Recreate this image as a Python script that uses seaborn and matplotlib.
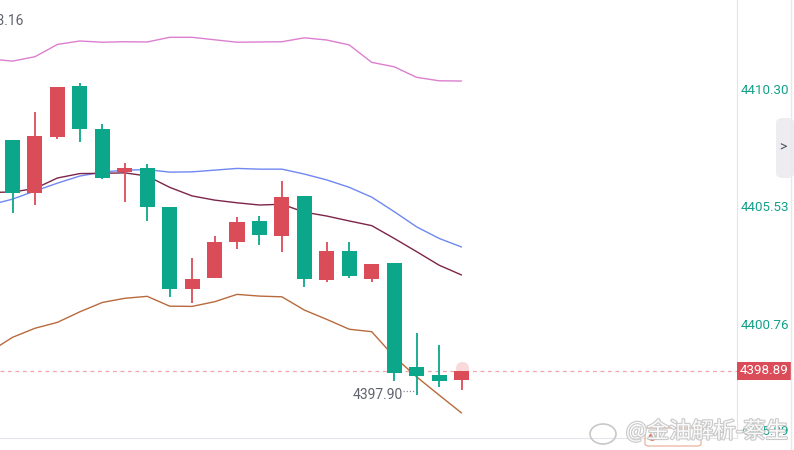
import numpy as np
import pandas as pd
import matplotlib.pyplot as plt
import seaborn as sns
import matplotlib.patheffects as pe
from matplotlib.patches import Rectangle, FancyBboxPatch, Ellipse

# --- candle data ---
opens  = [4408.30, 4406.15, 4408.43, 4410.50, 4408.74, 4407.00, 4407.16, 4405.58, 4402.24, 4402.69, 4404.15,
          4405.00, 4404.40, 4406.02, 4402.61, 4403.77, 4402.65, 4403.29, 4399.05, 4398.72, 4398.53]
closes = [4406.15, 4408.46, 4410.45, 4408.76, 4406.76, 4407.16, 4405.58, 4402.24, 4402.63, 4404.14, 4404.96,
          4404.44, 4405.97, 4402.65, 4403.77, 4402.77, 4403.25, 4398.82, 4398.70, 4398.49, 4398.89]
highs  = [4408.30, 4409.44, 4410.45, 4410.61, 4408.95, 4407.36, 4407.32, 4405.58, 4403.49, 4404.39, 4405.16,
          4405.20, 4406.63, 4406.02, 4404.14, 4404.14, 4403.25, 4403.29, 4400.43, 4399.95, 4398.89]
lows   = [4405.33, 4405.66, 4408.35, 4408.23, 4406.72, 4405.78, 4405.01, 4401.91, 4401.67, 4402.69, 4403.87,
          4404.03, 4403.75, 4402.32, 4402.52, 4402.69, 4402.52, 4398.49, 4397.90, 4398.25, 4398.12]

# --- indicator lines, one value per bar starting one bar before the first visible candle ---
upper_band = [4411.60, 4411.51, 4411.69, 4412.19, 4412.33, 4412.28, 4412.30, 4412.29, 4412.48, 4412.48, 4412.38,
              4412.28, 4412.29, 4412.30, 4412.46, 4412.37, 4412.17, 4411.46, 4411.28, 4410.85, 4410.71, 4410.70]
mid_band   = [4405.65, 4405.89, 4406.22, 4406.54, 4406.83, 4406.99, 4407.07, 4407.09, 4406.99, 4407.00, 4407.07,
              4407.14, 4407.11, 4407.11, 4406.91, 4406.67, 4406.37, 4405.97, 4405.38, 4404.76, 4404.29, 4403.94]
ma_line    = [4406.16, 4406.18, 4406.32, 4406.75, 4406.93, 4406.94, 4406.96, 4406.83, 4406.37, 4406.02, 4405.85,
              4405.74, 4405.65, 4405.68, 4405.36, 4405.20, 4405.00, 4404.81, 4404.29, 4403.75, 4403.20, 4402.80]
lower_band = [4399.68, 4400.26, 4400.63, 4400.87, 4401.30, 4401.68, 4401.85, 4401.93, 4401.53, 4401.52, 4401.71,
              4402.01, 4401.94, 4401.91, 4401.37, 4400.99, 4400.59, 4400.49, 4399.47, 4398.65, 4397.91, 4397.18]

axis_prices = [4410.30, 4405.53, 4400.76, 4395.99]
last_price = 4398.89
high_label = 4413.16   # marker for a high just off the left edge
time_ticks = [3, 11, 19]

RED = "#db4c59"
GREEN = "#0ca68b"
LABEL_GREEN = "#14a088"

sns.set_style("white")
plt.rcParams['font.family'] = ['Roboto', 'DejaVu Sans']

fig = plt.figure(figsize=(7.94, 4.5), dpi=100)
ax = fig.add_axes([0, 12 / 450, 737 / 794, 438 / 450])

# indicator lines via seaborn
n_line = len(upper_band)
line_x = np.arange(n_line) - 1
lines = pd.DataFrame({
    "idx": np.tile(line_x, 4),
    "value": upper_band + mid_band + ma_line + lower_band,
    "line": ["upper"] * n_line + ["mid"] * n_line + ["ma"] * n_line + ["lower"] * n_line,
})
palette = {"upper": "#dc7fcf", "mid": "#6f87f2", "ma": "#7c2449", "lower": "#b86a3c"}
sns.lineplot(data=lines, x="idx", y="value", hue="line", palette=palette, linewidth=1.0,
             legend=False, ax=ax, zorder=2)

# candles
o = np.array(opens)
c = np.array(closes)
x = np.arange(len(o))
cols = np.where(c >= o, RED, GREEN)
ax.vlines(x, lows, highs, colors=cols, lw=1.3, zorder=3)
ax.bar(x, np.maximum(np.abs(c - o), 0.12), bottom=np.minimum(o, c), width=0.67,
       color=cols, linewidth=0, zorder=4)

# glow on the live candle
ax.scatter([x[-1]], [closes[-1] + 0.12], s=90, color="#f4b5bb", alpha=0.5, zorder=3.5, linewidths=0)

# last price dashed line
ax.axhline(last_price, color="#f3a2a9", lw=0.9, ls=(0, (3, 3)), zorder=1)

# lowest low label
lo_i = int(np.argmin(lows))
ax.plot([lo_i - 0.6, lo_i - 0.05], [lows[lo_i] + 0.18] * 2, color="#8a8d96", lw=0.9,
        ls=(0, (1, 1.5)), zorder=5)
ax.text(lo_i - 0.6, lows[lo_i], f"{lows[lo_i]:.2f}", ha="right", va="center",
        fontsize=10, color="#60636d", zorder=5)

# high label cut off at left edge
ax.text(0.51, high_label, f"{high_label:.2f}", ha="right", va="center",
        fontsize=10, color="#60636d")

y_lo, y_hi = 4396.16, 4414.00
ax.set_xlim(-0.557, 32.27)
ax.set_ylim(y_lo, y_hi)

# axes decoration
for s in ["left", "top"]:
    ax.spines[s].set_visible(False)
ax.spines["right"].set_color("#e4e5ea")
ax.spines["bottom"].set_color("#e4e5ea")
ax.set_xticks(time_ticks)
ax.set_xticklabels([""] * len(time_ticks))
ax.tick_params(axis="x", length=12, color="#e4e5ea", direction="out")
ax.set_yticks([])
ax.set_xlabel("")
ax.set_ylabel("")

# right price scale labels
ytr = ax.get_yaxis_transform()
for p in axis_prices:
    ax.text(1.0054, max(p, y_lo + 0.25), f"{p:.2f}", transform=ytr, ha="left", va="center",
            fontsize=9.6, color=LABEL_GREEN, clip_on=False)

# current price tag
ax.add_patch(Rectangle((1.0, last_price - 0.37), 54 / 737, 0.74, transform=ytr,
                       facecolor=RED, edgecolor="none", clip_on=False, zorder=6))
ax.text(1.0 + 27 / 737, last_price, f"{last_price:.2f}", transform=ytr, ha="center", va="center",
        fontsize=9.6, color="white", clip_on=False, zorder=7)

# far right border line and collapse tab
fig.add_artist(plt.Line2D([791 / 794, 791 / 794], [0, 1], color="#e8e8ee", lw=1))
fig.add_artist(FancyBboxPatch((776 / 794, 1 - 178 / 450), 18 / 794, 60 / 450,
                              boxstyle="round,pad=0,rounding_size=0.01",
                              facecolor="#ececf1", edgecolor="none"))
fig.text(783 / 794, 1 - 147 / 450, ">", ha="center", va="center", fontsize=10, color="#555a66")

# watermark
fig.add_artist(FancyBboxPatch((645 / 794, 1 - 446 / 450), 56 / 794, 18 / 450,
                              boxstyle="round,pad=0,rounding_size=0.005",
                              facecolor="none", edgecolor="#eab39c", lw=0.9))
fig.text(652 / 794, 1 - 437 / 450, "●", ha="center", va="center", fontsize=7, color="#e07a55")
fig.add_artist(Ellipse((603 / 794, 1 - 434 / 450), 26 / 794, 20 / 450, facecolor="none",
                       edgecolor="#c8c8c8", lw=1.2))
wm = fig.text(707 / 794, 1 - 431 / 450, "@金油解析-蔡生", ha="center", va="center", fontsize=16,
              color="white", family=["Noto Sans CJK SC", "DejaVu Sans"], alpha=0.9)
wm.set_path_effects([pe.withStroke(linewidth=1.6, foreground="#c4c4c4")])

fig.savefig("out.png", dpi=100)
